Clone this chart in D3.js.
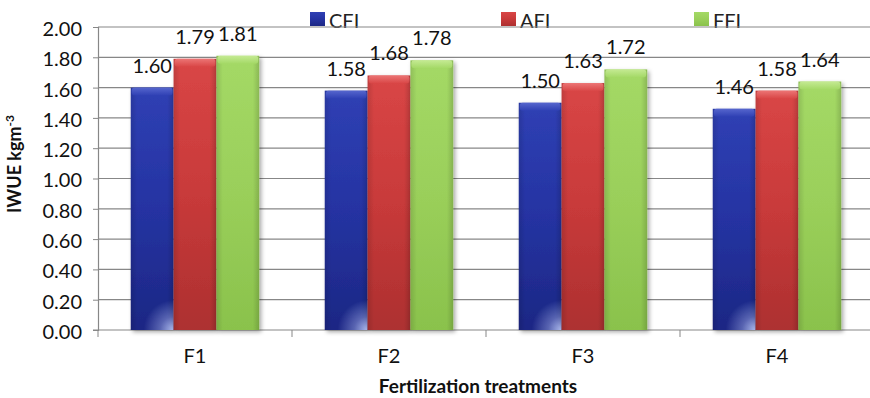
<!DOCTYPE html>
<html><head><meta charset="utf-8">
<script src="https://cdnjs.cloudflare.com/ajax/libs/d3/7.8.5/d3.min.js"></script>
<style>body{margin:0;background:#fff}svg{display:block}</style>
</head><body><svg id="c" width="870" height="398"></svg>
<script>
const categories = ["F1","F2","F3","F4"];
const series = ["CFI","AFI","FFI"];
const CFI = [1.60,1.58,1.50,1.46];
const AFI = [1.79,1.68,1.63,1.58];
const FFI = [1.81,1.78,1.72,1.64];
const yTicks = [0,0.2,0.4,0.6,0.8,1.0,1.2,1.4,1.6,1.8,2.0];
const values = {CFI, AFI, FFI};

(function(){
const svg = d3.select("#c");
const FONT = "Lato, 'Open Sans', sans-serif";
const pL = 98, pR = 874, pT = 27, pB = 330;
const x0 = d3.scaleBand().domain(categories).range([pL, pR]);
const x1 = d3.scaleBand().domain(series).range([0, x0.bandwidth()]).paddingInner(0).paddingOuter(0.765);
const y = d3.scaleLinear().domain([0, 2]).range([pB, pT]);

const defs = svg.append("defs");
const cols = {
  CFI: {l:"#2f40b4", m:"#2533a2", r:"#1c2784", cap1:"#5a6ad0", cap2:"#2f40b4", glow:"#b4c2f4"},
  AFI: {l:"#d94646", m:"#c83a3a", r:"#ad3030", cap1:"#ee7a7a", cap2:"#d94646", glow:null},
  FFI: {l:"#a4d966", m:"#9acf5a", r:"#8ac24c", cap1:"#c8ec98", cap2:"#a4d966", glow:null}
};
series.forEach(s => {
  const c = cols[s];
  const lg = defs.append("linearGradient").attr("id","g"+s).attr("x1","0").attr("x2","0").attr("y1","0").attr("y2","1");
  lg.append("stop").attr("offset","0").attr("stop-color",c.l);
  lg.append("stop").attr("offset","0.5").attr("stop-color",c.m);
  lg.append("stop").attr("offset","1").attr("stop-color",c.r);
  const hg = defs.append("linearGradient").attr("id","h"+s).attr("x1","0").attr("x2","1");
  hg.append("stop").attr("offset","0").attr("stop-color","#000").attr("stop-opacity",0.12);
  hg.append("stop").attr("offset","0.15").attr("stop-color","#000").attr("stop-opacity",0);
  hg.append("stop").attr("offset","0.85").attr("stop-color","#000").attr("stop-opacity",0);
  hg.append("stop").attr("offset","1").attr("stop-color","#000").attr("stop-opacity",0.15);
  const cg = defs.append("linearGradient").attr("id","c"+s).attr("x1","0").attr("x2","0").attr("y1","0").attr("y2","1");
  cg.append("stop").attr("offset","0").attr("stop-color",c.cap1);
  cg.append("stop").attr("offset","1").attr("stop-color",c.cap2);
  if (c.glow) {
    const rg = defs.append("radialGradient").attr("id","r"+s).attr("cx","1").attr("cy","1").attr("r","0.7");
    rg.append("stop").attr("offset","0").attr("stop-color",c.glow).attr("stop-opacity",0.95);
    rg.append("stop").attr("offset","0.45").attr("stop-color",c.glow).attr("stop-opacity",0.4);
    rg.append("stop").attr("offset","1").attr("stop-color",c.glow).attr("stop-opacity",0);
  }
});
const f = defs.append("filter").attr("id","sh").attr("x","-20%").attr("y","-20%").attr("width","150%").attr("height","150%");
f.append("feDropShadow").attr("dx",2).attr("dy",2).attr("stdDeviation",2).attr("flood-color","#000").attr("flood-opacity",0.35);

// legend (drawn under gridlines)
const legX = {CFI:310, AFI:501, FFI:694};
series.forEach(s => {
  const g = svg.append("g");
  g.append("rect").attr("x",legX[s]).attr("y",12).attr("width",15).attr("height",14).attr("fill","url(#g"+s+")");
  g.append("text").attr("x",legX[s]+19).attr("y",28).text(s)
    .attr("font-family",FONT).attr("font-size",20).attr("fill","#222");
});

// gridlines
svg.append("g").selectAll("line").data(yTicks).join("line")
  .attr("x1",pL).attr("x2",870).attr("y1",d=>y(d)).attr("y2",d=>y(d))
  .attr("stroke","#878787").attr("stroke-width",1.2);

// axes
const ya = svg.append("g").attr("transform",`translate(${pL},0)`)
  .call(d3.axisLeft(y).tickValues(yTicks).tickFormat(d3.format(".2f")).tickSize(5).tickPadding(11));
ya.select(".domain").attr("stroke","#878787").attr("stroke-width",1.2);
ya.selectAll(".tick line").attr("stroke","#878787");
ya.selectAll("text").attr("font-family",FONT).attr("font-size",20).attr("fill","#111").attr("dy","0.42em");

const xa = svg.append("g").attr("transform",`translate(0,${pB})`)
  .call(d3.axisBottom(x0).tickSize(0).tickPadding(19));
xa.select(".domain").remove();
xa.selectAll("text").attr("font-family",FONT).attr("font-size",20).attr("fill","#111");
svg.append("g").selectAll("line").data(categories.slice(1).concat(["end"])).join("line")
  .attr("x1",d=>d==="end"?pR:x0(d)).attr("x2",d=>d==="end"?pR:x0(d))
  .attr("y1",pB).attr("y2",pB+7).attr("stroke","#878787");
svg.append("line").attr("x1",pL-5).attr("x2",pL).attr("y1",pB).attr("y2",pB).attr("stroke","#878787");
svg.append("line").attr("x1",pL).attr("x2",pL).attr("y1",pB).attr("y2",pB+7).attr("stroke","#878787");

// bars
const gg = svg.append("g").selectAll("g").data(categories).join("g")
  .attr("transform",d=>`translate(${x0(d)},0)`);
series.forEach(s => {
  const bw = x1.bandwidth();
  const b = gg.append("g").datum((d,i)=>({cat:d, v:values[s][i]}));
  b.append("rect").attr("x",x1(s)).attr("y",d=>y(d.v)).attr("width",bw).attr("height",d=>pB-y(d.v))
    .attr("fill","url(#g"+s+")").attr("filter","url(#sh)");
  b.append("rect").attr("x",x1(s)).attr("y",d=>y(d.v)).attr("width",bw).attr("height",d=>pB-y(d.v))
    .attr("fill","url(#h"+s+")");
  if (cols[s].glow) {
    b.append("rect").attr("x",x1(s)).attr("y",pB-bw).attr("width",bw).attr("height",bw)
      .attr("fill","url(#r"+s+")");
  }
  b.append("rect").attr("x",x1(s)+1).attr("y",d=>y(d.v)).attr("width",bw-2).attr("height",8).attr("rx",3)
    .attr("fill","url(#c"+s+")").attr("opacity",0.9);
  b.append("text").attr("x",x1(s)+bw/2).attr("y",d=>y(d.v)-15).attr("text-anchor","middle")
    .text(d=>d.v.toFixed(2)).attr("font-family",FONT).attr("font-size",20).attr("fill","#111");
});

// axis titles
svg.append("text").attr("transform","translate(21,164) rotate(-90)").attr("text-anchor","middle")
  .attr("font-family",FONT).attr("font-size",18).attr("font-weight","bold").attr("fill","#111")
  .call(t=>{ t.append("tspan").text("IWUE kgm"); t.append("tspan").attr("dy",-7).attr("font-size",12).text("-3"); });
svg.append("text").attr("x",478).attr("y",393).attr("text-anchor","middle")
  .attr("font-family",FONT).attr("font-size",19).attr("font-weight","bold").attr("fill","#111")
  .text("Fertilization treatments");
})();
</script></body></html>
